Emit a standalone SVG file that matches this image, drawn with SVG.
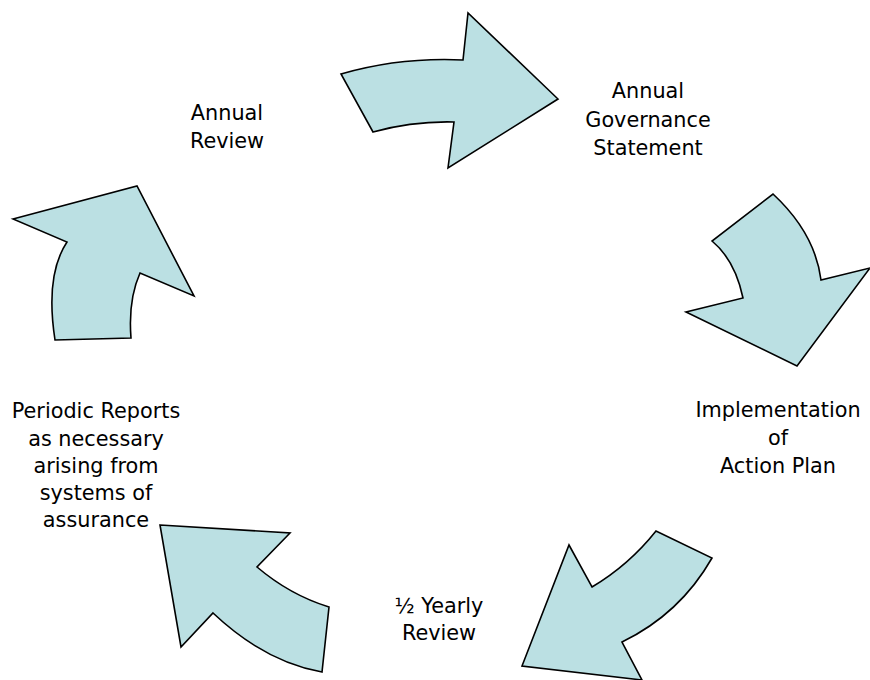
<svg xmlns="http://www.w3.org/2000/svg" width="870" height="680" viewBox="0 0 870 680">
  <style>
    .lbl { font-family: "DejaVu Sans", Verdana, sans-serif; font-size: 20.8px; fill: #000; text-anchor: middle; }
    .arrow { fill: #BBE0E3; stroke: #000; stroke-width: 1.6; stroke-linejoin: miter; }
  </style>
  <defs>
    <clipPath id="clipAssurance">
      <rect x="0" y="0" width="870" height="528"/>
    </clipPath>
  </defs>
  <rect x="0" y="0" width="870" height="680" fill="#fff"/>

  <g id="node-annual-review">
    <text class="lbl" x="227" y="120">Annual</text>
    <text class="lbl" x="227" y="148">Review</text>
  </g>
  <g id="node-annual-governance">
    <text class="lbl" x="648" y="98">Annual</text>
    <text class="lbl" x="648" y="127">Governance</text>
    <text class="lbl" x="648" y="155">Statement</text>
  </g>
  <g id="node-implementation">
    <text class="lbl" x="778" y="417">Implementation</text>
    <text class="lbl" x="778" y="445">of</text>
    <text class="lbl" x="778" y="473">Action Plan</text>
  </g>
  <g id="node-half-yearly">
    <text class="lbl" x="439" y="613">½ Yearly</text>
    <text class="lbl" x="439" y="640">Review</text>
  </g>
  <g id="node-periodic-reports">
    <text class="lbl" x="96" y="418">Periodic Reports</text>
    <text class="lbl" x="96" y="446">as necessary</text>
    <text class="lbl" x="96" y="473">arising from</text>
    <text class="lbl" x="96" y="500">systems of</text>
    <text class="lbl" x="96" y="527" clip-path="url(#clipAssurance)">assurance</text>
  </g>

  <g id="connectors">
    <path class="arrow" d="M341,74 Q400,57 463,60 L468,13 L558,99 L448,168 L454,122 Q413,121 373,132 Z"/>
    <path class="arrow" d="M773,194 Q815,233 821,280 L870,268 L797,366 L686,312 L743,298 Q735,260 712,241 Z"/>
    <path class="arrow" d="M712,558 Q680,614 622,642 L642,680 L522,666 L569,545 L592,587 Q629,565 656,531 Z"/>
    <path class="arrow" d="M160,525 L290,533 L257,567 Q290,595 329,607 L322,672 Q265,662 213,613 L181,647 Z"/>
    <path class="arrow" d="M13,219 L137,186 L194,296 L140,273 Q128,300 131,338 L55,340 Q45,275 67,242 Z"/>
  </g>
</svg>
